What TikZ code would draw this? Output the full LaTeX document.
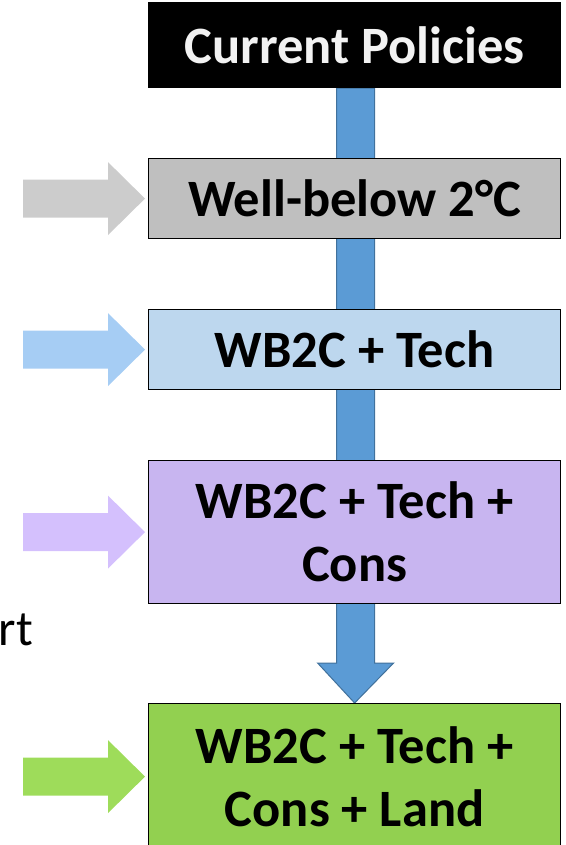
\documentclass[tikz,border=0pt]{standalone}
\usepackage{fontspec}
\setmainfont{Carlito}
\usetikzlibrary{calc,backgrounds}
\definecolor{cpblack}{HTML}{000000}
\definecolor{cptext}{HTML}{F2F2F2}
\definecolor{wbgray}{HTML}{BFBFBF}
\definecolor{techblue}{HTML}{BDD7EE}
\definecolor{conspurple}{HTML}{C8B5F0}
\definecolor{landgreen}{HTML}{92D050}
\definecolor{flowblue}{HTML}{5B9BD5}
\definecolor{flowedge}{HTML}{41719C}
\definecolor{ingray}{HTML}{CCCCCC}
\definecolor{inblue}{HTML}{A6CDF4}
\definecolor{inpurple}{HTML}{D4C0FD}
\definecolor{ingreen}{HTML}{9EDC5A}
\tikzset{
  scen/.style={draw=black, line width=1.2pt, minimum width=412pt, inner sep=0pt,
    anchor=north west, align=center, font=\bfseries\fontsize{52.5}{63}\selectfont},
  flow/.style={fill=flowblue, draw=flowedge, line width=1pt, line join=miter},
}
\begin{document}
\begin{tikzpicture}[x=1pt,y=-1pt]
\useasboundingbox (0,0) rectangle (565,845);
\clip (0,0) rectangle (565,845);

% scenario boxes
\node[scen, fill=cpblack, text=cptext, minimum height=85pt] (cp) at (148,2) {Current Policies};
\node[scen, fill=wbgray, minimum height=80pt] (wb) at (148,158) {Well-below 2°C};
\node[scen, fill=techblue, minimum height=80pt] (tech) at (148,309) {WB2C + Tech};
\node[scen, fill=conspurple, minimum height=143pt] (cons) at (148,460) {WB2C + Tech +\\Cons};
\node[scen, fill=landgreen, minimum height=146pt] (land) at (148,703) {WB2C + Tech +\\Cons + Land};

% main downward flow arrow, behind the boxes
\begin{scope}[on background layer]
\draw[flow]
  ($(cp.south)+(-18,0)$) -- ($(land.north)+(-18,-40)$) -- ($(land.north)+(-37,-40)$)
  -- (land.north) -- ($(land.north)+(39,-40)$) -- ($(land.north)+(20,-40)$)
  -- ($(cp.south)+(20,0)$) -- cycle;
\end{scope}

% incoming arrows from the left
\foreach \b/\c in {wb/ingray, tech/inblue, cons/inpurple, land/ingreen}{
  \fill[\c] ($(\b.west)+(-3,0)$) -- ++(-37,-36.5) -- ++(0,17.5) -- ++(-85,0)
    -- ++(0,38) -- ++(85,0) -- ++(0,17.5) -- cycle;
}

\node[anchor=base east, inner sep=0pt, font=\fontsize{50}{56}\selectfont] (rt) at (33,645) {rt};
\end{tikzpicture}
\end{document}
